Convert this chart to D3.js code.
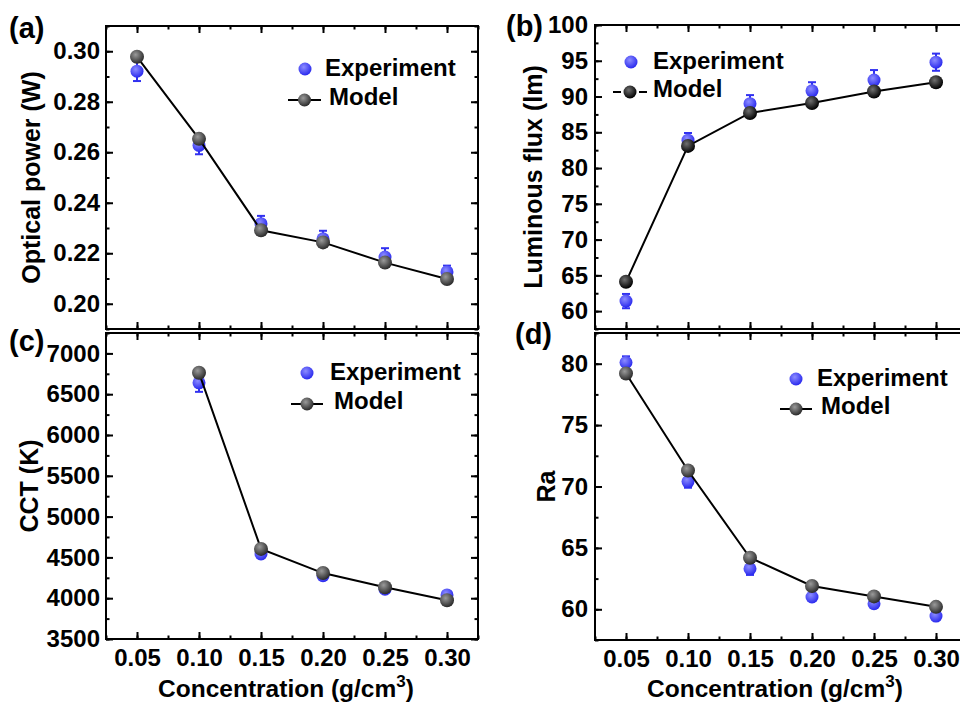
<!DOCTYPE html>
<html>
<head>
<meta charset="utf-8">
<script src="https://cdn.jsdelivr.net/npm/d3@7"></script>
<style>
  body { margin: 0; background: #fff; }
  text { font-family: Arial, "Liberation Sans", sans-serif; font-weight: bold; fill: #000; }
</style>
</head>
<body>
<div id="chart"></div>
<script>
// Concentration (g/cm3)
const conc = [0.05, 0.10, 0.15, 0.20, 0.25, 0.30];
const xTicks = [0.05, 0.10, 0.15, 0.20, 0.25, 0.30];

// (a) optical power
const powerExp   = [0.2921, 0.2627, 0.2317, 0.2257, 0.2185, 0.2126];
const powerErr   = [0.0039, 0.0035, 0.0031, 0.0032, 0.0035, 0.0025];
const powerModel = [0.2978, 0.2653, 0.2291, 0.2243, 0.2163, 0.2098];
const powerTicks = [0.20, 0.22, 0.24, 0.26, 0.28, 0.30];

// (b) luminous flux
const fluxExp   = [61.4, 83.9, 89.0, 90.8, 92.3, 94.8];
const fluxErr   = [1.0, 1.0, 1.2, 1.2, 1.4, 1.2];
const fluxModel = [64.1, 83.1, 87.7, 89.1, 90.7, 92.0];
const fluxTicks = [60, 65, 70, 75, 80, 85, 90, 95, 100];

// (c) CCT, no value at 0.05
const cctConc  = [0.10, 0.15, 0.20, 0.25, 0.30];
const cctExp   = [6639, 4542, 4275, 4110, 4040];
const cctErr   = [110, 50, 50, 45, 45];
const cctModel = [6762, 4604, 4308, 4135, 3975];
const cctTicks = [3500, 4000, 4500, 5000, 5500, 6000, 6500, 7000];

// (d) Ra
const raExp   = [80.1, 70.4, 63.3, 61.0, 60.45, 59.45];
const raErr   = [0.5, 0.5, 0.5, 0.3, 0.3, 0.3];
const raModel = [79.2, 71.3, 64.2, 61.9, 61.05, 60.2];
const raTicks = [60, 65, 70, 75, 80];

const W = 960, H = 704;
const FONT = 'Arial, "Liberation Sans", sans-serif';

const svg = d3.select('#chart').append('svg')
  .attr('width', W)
  .attr('height', H);

// ball shading
const defs = svg.append('defs');
function ball(id, light, dark) {
  let g = defs.append('radialGradient')
    .attr('id', id)
    .attr('cx', '40%').attr('cy', '35%').attr('r', '65%');
  g.append('stop').attr('offset', '0%').attr('stop-color', light);
  g.append('stop').attr('offset', '100%').attr('stop-color', dark);
}
ball('ballBlue', '#8c8cff', '#2a2aee');
ball('ballGray', '#9a9a9a', '#2a2a2a');
ball('ballBlack', '#707070', '#000000');

const panels = [
  { tag: '(a)', tagX: 9, tagY: 38, left: 106, right: 478, top: 26, bottom: 329,
    y: [0.19, 0.31], yTicks: powerTicks, yMinor: 0.01, fmt: d3.format('.2f'),
    title: 'Optical power (W)', titleX: 31,
    xs: conc, exp: powerExp, err: powerErr, model: powerModel, modelBall: 'ballGray',
    legend: { dotX: 305, dotY: 69, textX: 325, lineX: [288, 321], modelY: 100, gap: false },
    xLabels: false },
  { tag: '(b)', tagX: 506, tagY: 36, left: 595, right: 967, top: 25, bottom: 329,
    y: [57.5, 100], yTicks: fluxTicks, yMinor: 2.5, fmt: d3.format('d'),
    title: 'Luminous flux (lm)', titleX: 533,
    xs: conc, exp: fluxExp, err: fluxErr, model: fluxModel, modelBall: 'ballBlack',
    legend: { dotX: 631, dotY: 62, textX: 653, lineX: [613, 647], modelY: 92, gap: true },
    xLabels: false },
  { tag: '(c)', tagX: 9, tagY: 351, left: 106, right: 478, top: 333, bottom: 639,
    y: [3500, 7250], yTicks: cctTicks, yMinor: 250, fmt: d3.format('d'),
    title: 'CCT (K)', titleX: 29,
    xs: cctConc, exp: cctExp, err: cctErr, model: cctModel, modelBall: 'ballGray',
    legend: { dotX: 307, dotY: 373, textX: 330, lineX: [291, 323], modelY: 404, gap: false },
    xLabels: true },
  { tag: '(d)', tagX: 515, tagY: 344, left: 595, right: 967, top: 333, bottom: 640,
    y: [57.5, 82.5], yTicks: raTicks, yMinor: 2.5, fmt: d3.format('d'),
    title: 'Ra', titleX: 546,
    xs: conc, exp: raExp, err: raErr, model: raModel, modelBall: 'ballGray',
    legend: { dotX: 796, dotY: 379, textX: 817, lineX: [780, 812], modelY: 409, gap: false },
    xLabels: true }
];

function minorTicks(domain, step) {
  let out = [];
  let start = Math.ceil(domain[0] / step - 1e-9);
  for (let k = start; k * step <= domain[1] + 1e-9; k++) out.push(+(k * step).toFixed(6));
  return out;
}

function styleLabels(sel) {
  sel.attr('font-size', 24)
    .attr('font-family', FONT)
    .attr('font-weight', 'bold')
    .attr('fill', '#000');
}

function drawPanel(p) {
  let x = d3.scaleLinear().domain([0.025, 0.325]).range([p.left, p.right]);
  let y = d3.scaleLinear().domain(p.y).range([p.bottom, p.top]);
  let g = svg.append('g');

  let xMinor = minorTicks([0.025, 0.325], 0.025);
  let yMinor = minorTicks(p.y, p.yMinor);

  // Inward ticks on all four sides
  let axes = [
    [d3.axisBottom(x), p.bottom, 'x'],
    [d3.axisTop(x), p.top, 'x'],
    [d3.axisLeft(y), p.left, 'y'],
    [d3.axisRight(y), p.right, 'y']
  ];
  for (let [mk, pos, dir] of axes) {
    let major = dir === 'x' ? xTicks : p.yTicks;
    let minor = dir === 'x' ? xMinor : yMinor;
    let tr = dir === 'x' ? `translate(0,${pos})` : `translate(${pos},0)`;
    g.append('g').attr('transform', tr)
      .call(mk.tickValues(minor).tickSize(-3.5).tickFormat(''))
      .call(s => s.select('.domain').remove())
      .selectAll('line').attr('stroke-width', 2);
    g.append('g').attr('transform', tr)
      .call(mk.tickValues(major).tickSize(-7).tickFormat(''))
      .call(s => s.select('.domain').remove())
      .selectAll('line').attr('stroke-width', 2);
  }

  // Tick labels
  g.append('g').attr('transform', `translate(${p.left},0)`)
    .call(d3.axisLeft(y).tickValues(p.yTicks).tickSize(0).tickPadding(p.left > 500 ? 7 : 6).tickFormat(p.fmt))
    .call(s => s.select('.domain').remove())
    .selectAll('text').call(styleLabels);

  if (p.xLabels) {
    g.append('g').attr('transform', `translate(0,${p.bottom})`)
      .call(d3.axisBottom(x).tickValues(xTicks).tickSize(0).tickPadding(10).tickFormat(d3.format('.2f')))
      .call(s => s.select('.domain').remove())
      .selectAll('text').call(styleLabels);

    let t = g.append('text')
      .attr('x', (p.left + p.right) / 2 - 6)
      .attr('y', 697)
      .attr('text-anchor', 'middle')
      .attr('font-size', 24.5);
    t.append('tspan').text('Concentration (g/cm');
    t.append('tspan').text('3').attr('font-size', 17).attr('dy', -10);
    t.append('tspan').text(')').attr('dy', 10);
  }

  // Frame
  g.append('rect')
    .attr('x', p.left).attr('y', p.top)
    .attr('width', p.right - p.left).attr('height', p.bottom - p.top)
    .attr('fill', 'none').attr('stroke', '#000').attr('stroke-width', 2);

  // Y title
  let cy = (p.top + p.bottom) / 2;
  g.append('text')
    .text(p.title)
    .attr('font-size', 25)
    .attr('text-anchor', 'middle')
    .attr('dy', '0.35em')
    .attr('transform', `translate(${p.titleX},${cy}) rotate(-90)`);

  // Panel tag
  g.append('text').text(p.tag)
    .attr('x', p.tagX).attr('y', p.tagY)
    .attr('font-size', 29);

  // Experiment error bars
  let eb = g.append('g').attr('stroke', '#3030f0').attr('stroke-width', 2);
  p.xs.forEach((c, i) => {
    let cx = x(c), y1 = y(p.exp[i] - p.err[i]), y2 = y(p.exp[i] + p.err[i]);
    eb.append('line').attr('x1', cx).attr('x2', cx).attr('y1', y1).attr('y2', y2);
    eb.append('line').attr('x1', cx - 4).attr('x2', cx + 4).attr('y1', y1).attr('y2', y1);
    eb.append('line').attr('x1', cx - 4).attr('x2', cx + 4).attr('y1', y2).attr('y2', y2);
  });

  // Experiment points
  g.selectAll('.exp')
      .data(p.xs.map((c, i) => [c, p.exp[i]]))
    .enter().append('circle')
      .classed('exp', true)
      .attr('cx', d => x(d[0]))
      .attr('cy', d => y(d[1]))
      .attr('r', 6.5)
      .attr('fill', 'url(#ballBlue)');

  // Model line and points
  let line = d3.line().x(d => x(d[0])).y(d => y(d[1]));
  let pts = p.xs.map((c, i) => [c, p.model[i]]);
  g.append('path')
    .attr('d', line(pts))
    .attr('fill', 'none')
    .attr('stroke', '#000')
    .attr('stroke-width', 2);
  g.selectAll('.model')
      .data(pts)
    .enter().append('circle')
      .classed('model', true)
      .attr('cx', d => x(d[0]))
      .attr('cy', d => y(d[1]))
      .attr('r', 7)
      .attr('fill', `url(#${p.modelBall})`);

  // Legend
  let L = p.legend;
  g.append('circle').attr('cx', L.dotX).attr('cy', L.dotY).attr('r', 6.5).attr('fill', 'url(#ballBlue)');
  g.append('text').text('Experiment').attr('x', L.textX).attr('y', L.dotY).attr('dy', '0.3em').attr('font-size', 24);
  let mx = (L.lineX[0] + L.lineX[1]) / 2;
  if (L.gap) {
    g.append('line').attr('x1', L.lineX[0]).attr('x2', mx - 9).attr('y1', L.modelY).attr('y2', L.modelY)
      .attr('stroke', '#000').attr('stroke-width', 2);
    g.append('line').attr('x1', mx + 9).attr('x2', L.lineX[1]).attr('y1', L.modelY).attr('y2', L.modelY)
      .attr('stroke', '#000').attr('stroke-width', 2);
  } else {
    g.append('line').attr('x1', L.lineX[0]).attr('x2', L.lineX[1]).attr('y1', L.modelY).attr('y2', L.modelY)
      .attr('stroke', '#000').attr('stroke-width', 2);
  }
  g.append('circle').attr('cx', mx).attr('cy', L.modelY).attr('r', 6.5).attr('fill', `url(#${p.modelBall})`);
  g.append('text').text('Model').attr('x', L.textX + (L.gap ? 0 : 4)).attr('y', L.modelY).attr('dy', '0.22em').attr('font-size', 24);
}

for (let p of panels) drawPanel(p);
</script>
</body>
</html>
